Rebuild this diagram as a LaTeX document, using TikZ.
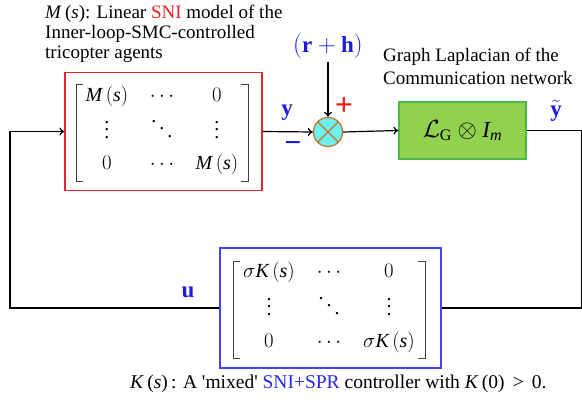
\documentclass[tikz,border=0pt]{standalone}
\usepackage{amsmath}
\usepackage{fontspec}
\setmainfont{Liberation Serif}
\usetikzlibrary{matrix,arrows.meta}
\definecolor{boxred}{HTML}{E8262A}
\definecolor{boxblue}{HTML}{4444F2}
\definecolor{gfill}{HTML}{92D050}
\definecolor{gborder}{HTML}{4DB848}
\definecolor{sumcyan}{HTML}{6CF2F2}
\definecolor{sumbrown}{HTML}{C87533}
\definecolor{lblue}{HTML}{1C1CE0}
\definecolor{capblue}{HTML}{2828E6}
\definecolor{snired}{HTML}{E82020}
\newcommand{\tallvdots}{\lower3pt\vbox{\baselineskip=7.5pt\lineskiplimit=-10pt\hbox{.}\hbox{.}\hbox{.}}}
\newcommand{\tallddots}{\lower2pt\hbox{\raise15pt\hbox{.}\kern3pt\raise7.5pt\hbox{.}\kern3pt\hbox{.}}}
\begin{document}
\begin{tikzpicture}[x=1pt,y=-1pt,
  txt/.style={font=\fontsize{19.5}{20}\selectfont, inner sep=0, align=left},
  lbl/.style={text=lblue, font=\fontsize{23}{24}\selectfont, inner sep=0},
  wire/.style={line width=1.2pt, draw=black},
  arr/.style={wire, -{To[length=5pt,width=8pt]}},
  blk/.style={line width=1.2pt, inner sep=0},
  brk/.style={line width=0.9pt, draw=black!75},
  mat/.style={matrix of math nodes,
    font=\fontsize{20}{22}\selectfont, column sep=0pt,
    nodes={inner sep=0, text height=14pt, text depth=5pt, anchor=center}},
  ]
\useasboundingbox (0,0) rectangle (582,406);

% top-left caption
\node[txt, font=\fontsize{19}{20}\selectfont, anchor=north west] (mtext) at (45,5)
  {\textit{M}\,(\textit{s}): Linear \textcolor{snired}{SNI} model of the\\
   Inner-loop-SMC-controlled\\ tricopter agents};

% graph laplacian caption
\node[txt, font=\fontsize{19}{22.5}\selectfont, anchor=north west] (gtext) at (383,48)
  {Graph Laplacian of the\\ Communication network};

% M block
\node[blk, draw=boxred, minimum width=197, minimum height=118] (Mbox) at (163.5,131.5) {};
\matrix (Mmat) [mat, row sep=15pt, nodes={minimum width=55pt}] at (162,131) {
  \mathit{M}\,(\mathit{s}) & \cdots & 0 \\
  \tallvdots & \tallddots & \tallvdots \\
  0 & \cdots & \mathit{M}\,(\mathit{s}) \\
};
\draw[brk] (83,84) -- (76,84) -- (76,181) -- (83,181);
\draw[brk] (241,84) -- (248,84) -- (248,181) -- (241,181);

% summing junction
\node[circle, draw=sumbrown, fill=sumcyan, line width=1.3pt, minimum size=29pt, inner sep=0] (sum) at (328,132) {};
\draw[sumbrown, line width=1.3pt] (sum.north west) -- (sum.south east)
  (sum.north east) -- (sum.south west);

% graph laplacian block
\node[blk, draw=gborder, fill=gfill, minimum width=127, minimum height=57,
  font=\fontsize{23}{24}\selectfont] (L) at (462.5,130.5)
  {$\mathcal{L}_{\mathrm{G}}\otimes \mathit{I}_{\mathit{m}}$};

% K block
\node[blk, draw=boxblue, minimum width=221, minimum height=120] (Kbox) at (330.5,308) {};
\matrix (Kmat) [mat, row sep=16pt, nodes={minimum width=60pt}] at (329,308) {
  \sigma \mathit{K}\,(\mathit{s}) & \cdots & 0 \\
  \tallvdots & \tallddots & \tallvdots \\
  0 & \cdots & \sigma \mathit{K}\,(\mathit{s}) \\
};
\draw[brk] (240,261) -- (233,261) -- (233,358) -- (240,358);
\draw[brk] (418,261) -- (425,261) -- (425,358) -- (418,358);

% labels
\node[lbl] (rh) at (328,46) {$(\mathbf{r}+\mathbf{h})$};
\node[lbl] (ylab) at (287,113) {$\mathbf{y}$};
\node[lbl] (ytl) at (556,111) {$\tilde{\mathbf{y}}$};
\node[lbl] (ulab) at (188,292) {$\mathbf{u}$};
\node[lbl, font=\fontsize{30}{30}\selectfont\bfseries] (minus) at (293,147) {\textminus};
\node[inner sep=0, text=snired, font=\fontsize{32}{32}\selectfont\bfseries] (plus) at (344,106) {+};

% bottom caption
\node[txt, anchor=base west] (cap) at (130,389)
  {\textit{K}\,(\textit{s})\,: A \textquotesingle mixed\textquotesingle{} \textcolor{capblue}{SNI+SPR} controller with \textit{K}\,(0)\, > \,0.};

% wires
\coordinate (redge) at (582,0);
\coordinate (ledge) at (10,0);
\draw[arr] (Mbox.east) -- (sum.west);
\draw[arr] (sum.east) -- (L.west);
\draw[arr] (rh.south) ++(0,3) -- (sum.north);
\draw[wire] (L.east) -- (L.east -| redge) |- (Kbox.east);
\draw[arr] (Kbox.west) -- (Kbox.west -| ledge) |- (Mbox.west);
\end{tikzpicture}
\end{document}
